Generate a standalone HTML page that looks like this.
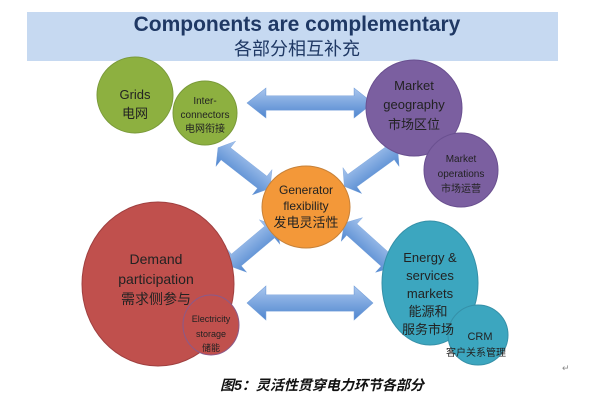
<!DOCTYPE html>
<html><head><meta charset="utf-8"><style>
html,body{margin:0;padding:0;background:#fff;}
svg{display:block;}
text{font-family:"Liberation Sans","Noto Sans CJK SC",sans-serif;}
</style></head><body>
<svg width="610" height="408" viewBox="0 0 610 408" xmlns="http://www.w3.org/2000/svg">
<defs>
<linearGradient id="ag" x1="0" y1="0" x2="0" y2="1">
<stop offset="0" stop-color="#a9c6ee"/><stop offset="1" stop-color="#4f86cf"/>
</linearGradient>
<g id="arr"><path d="M-1,0 L-0.7,-0.5 L-0.7,-0.24 L0.7,-0.24 L0.7,-0.5 L1,0 L0.7,0.5 L0.7,0.24 L-0.7,0.24 L-0.7,0.5 Z" fill="url(#ag)" stroke="#6f9bd8" stroke-width="0.01"/></g>
</defs>
<rect x="27" y="12" width="531" height="49" fill="#c6d9f1"/>
<text x="297" y="31" font-size="21" font-weight="bold" fill="#1f3864" text-anchor="middle">Components are complementary</text>
<text x="297" y="55" font-size="18" fill="#1f3864" text-anchor="middle">各部分相互补充</text>

<use href="#arr" transform="translate(310,103) scale(63,30)"/>
<use href="#arr" transform="translate(310,303) scale(63,34)"/>
<use href="#arr" transform="translate(244,168) rotate(38) scale(33,32)"/>
<use href="#arr" transform="translate(371,167) rotate(-36) scale(33,32)"/>
<use href="#arr" transform="translate(253,246) rotate(-40) scale(31,32)"/>
<use href="#arr" transform="translate(369,245) rotate(42) scale(33,32)"/>

<circle cx="135" cy="95" r="38" fill="#8db040" stroke="#7a9a3a"/>
<text x="135" y="99" font-size="13" fill="#222" text-anchor="middle">Grids</text>
<text x="135" y="118" font-size="13" fill="#222" text-anchor="middle">电网</text>
<circle cx="205" cy="113" r="32" fill="#8db040" stroke="#7a9a3a"/>
<text x="205" y="104" font-size="10" fill="#222" text-anchor="middle">Inter-</text>
<text x="205" y="118" font-size="10" fill="#222" text-anchor="middle">connectors</text>
<text x="205" y="132" font-size="10" fill="#222" text-anchor="middle">电网衔接</text>

<circle cx="414" cy="108" r="48" fill="#7b5fa0" stroke="#6a5090"/>
<text x="414" y="90" font-size="13" fill="#222" text-anchor="middle">Market</text>
<text x="414" y="109" font-size="13" fill="#222" text-anchor="middle">geography</text>
<text x="414" y="129" font-size="13" fill="#222" text-anchor="middle">市场区位</text>
<circle cx="461" cy="170" r="37" fill="#7b5fa0" stroke="#6a5090"/>
<text x="461" y="162" font-size="10" fill="#222" text-anchor="middle">Market</text>
<text x="461" y="177" font-size="10" fill="#222" text-anchor="middle">operations</text>
<text x="461" y="192" font-size="10" fill="#222" text-anchor="middle">市场运营</text>

<ellipse cx="306" cy="207" rx="44" ry="41" fill="#f39839" stroke="#c7823a"/>
<text x="306" y="194" font-size="12" fill="#222" text-anchor="middle">Generator</text>
<text x="306" y="210" font-size="12" fill="#222" text-anchor="middle">flexibility</text>
<text x="306" y="227" font-size="13" fill="#222" text-anchor="middle">发电灵活性</text>

<ellipse cx="158" cy="284" rx="76" ry="82" fill="#c0504d" stroke="#a04040"/>
<text x="156" y="264" font-size="14" fill="#222" text-anchor="middle">Demand</text>
<text x="156" y="284" font-size="14" fill="#222" text-anchor="middle">participation</text>
<text x="156" y="304" font-size="14" fill="#222" text-anchor="middle">需求侧参与</text>
<ellipse cx="211" cy="325" rx="28" ry="30" fill="#c0504d" stroke="#8a5a8a"/>
<text x="211" y="322" font-size="9" fill="#222" text-anchor="middle">Electricity</text>
<text x="211" y="337" font-size="9" fill="#222" text-anchor="middle">storage</text>
<text x="211" y="351" font-size="9" fill="#222" text-anchor="middle">储能</text>

<ellipse cx="430" cy="283" rx="48" ry="62" fill="#3ca6bf" stroke="#3590a8"/>
<circle cx="478" cy="335" r="30" fill="#3ca6bf" stroke="#3590a8"/>
<text x="430" y="262" font-size="13" fill="#222" text-anchor="middle">Energy &amp;</text>
<text x="430" y="280" font-size="13" fill="#222" text-anchor="middle">services</text>
<text x="430" y="298" font-size="13" fill="#222" text-anchor="middle">markets</text>
<text x="428" y="316" font-size="13" fill="#222" text-anchor="middle">能源和</text>
<text x="428" y="334" font-size="13" fill="#222" text-anchor="middle">服务市场</text>
<text x="480" y="356" font-size="11" fill="#222" text-anchor="middle" dy="-16">CRM</text>
<text x="476" y="371" font-size="10" fill="#222" text-anchor="middle" dy="-15">客户关系管理</text>

<text x="562" y="371" font-size="9" fill="#888">↵</text>
<text x="322" y="390" font-size="14" font-weight="bold" font-style="italic" fill="#111" text-anchor="middle">图5：灵活性贯穿电力环节各部分</text>
</svg>
</body></html>
